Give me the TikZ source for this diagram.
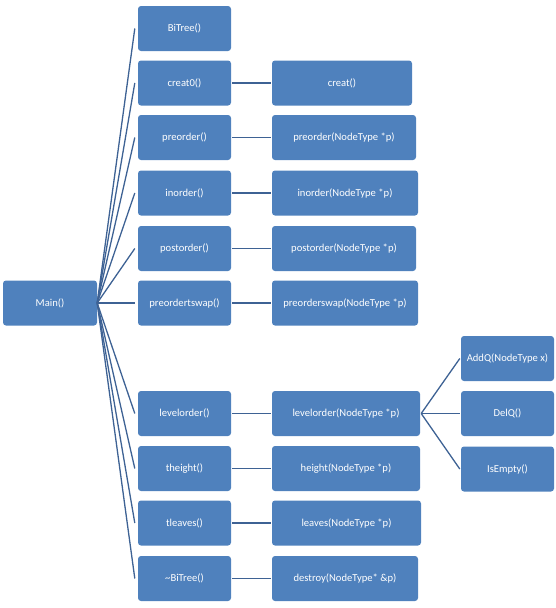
\documentclass[tikz,border=0pt]{standalone}
\usepackage{fontspec}
\setmainfont{Carlito}
\definecolor{boxblue}{RGB}{79,129,189}
\definecolor{linkblue}{RGB}{62,98,148}
\begin{document}
\begin{tikzpicture}[x=1pt,y=-1pt,
  fbox/.style={fill=boxblue,draw=none,rounded corners=3pt,minimum height=45pt,inner sep=0pt,text=white,font=\fontsize{10.6}{12}\selectfont},
  wide/.style={fbox,minimum width=#1},
  link/.style={draw=linkblue,line width=1.3pt}]
\useasboundingbox (0,0) rectangle (556,608);
% main
\node[wide=94pt] (main) at (50,303) {Main()};
% column 2
\node[wide=93pt] (c1) at (184.5,28.5) {BiTree()};
\node[wide=93pt] (c2) at (184.5,83) {creat0()};
\node[wide=93pt] (c3) at (184.5,137.5) {preorder()};
\node[wide=93pt] (c4) at (184.5,193) {inorder()};
\node[wide=93pt] (c5) at (184.5,248.5) {postorder()};
\node[wide=93pt] (c6) at (184.5,303) {preordertswap()};
\node[wide=93pt] (c7) at (184.5,413.5) {levelorder()};
\node[wide=93pt] (c8) at (184.5,468.5) {theight()};
\node[wide=93pt] (c9) at (184.5,523) {tleaves()};
\node[wide=93pt] (c10) at (184.5,578.5) {\textasciitilde BiTree()};
% column 3
\node[wide=140pt] (d2) at (342,83) {creat()};
\node[wide=144pt] (d3) at (344,137.5) {preorder(NodeType *p)};
\node[wide=146pt] (d4) at (345,193) {inorder(NodeType *p)};
\node[wide=144pt] (d5) at (344,248.5) {postorder(NodeType *p)};
\node[wide=146pt] (d6) at (345,303) {preorderswap(NodeType *p)};
\node[wide=148pt] (d7) at (346,413.5) {levelorder(NodeType *p)};
\node[wide=148pt] (d8) at (346,468.5) {height(NodeType *p)};
\node[wide=149pt] (d9) at (346.5,523) {leaves(NodeType *p)};
\node[wide=146pt] (d10) at (345,578.5) {destroy(NodeType* \&p)};
% column 4
\node[wide=93pt] (e1) at (507.5,358.5) {AddQ(NodeType x)};
\node[wide=93pt] (e2) at (507.5,413.5) {DelQ()};
\node[wide=93pt] (e3) at (507.5,469) {IsEmpty()};
% connectors
\foreach \i in {1,...,10} {\draw[link] (main.east) -- ([xshift=-3pt]c\i.west);}
\foreach \i in {2,...,10} {\draw[link] ([xshift=1pt]c\i.east) -- ([xshift=-1pt]d\i.west);}
\foreach \i in {1,2,3} {\draw[link] ([xshift=1pt]d7.east) -- ([xshift=-1pt]e\i.west);}
\end{tikzpicture}
\end{document}
